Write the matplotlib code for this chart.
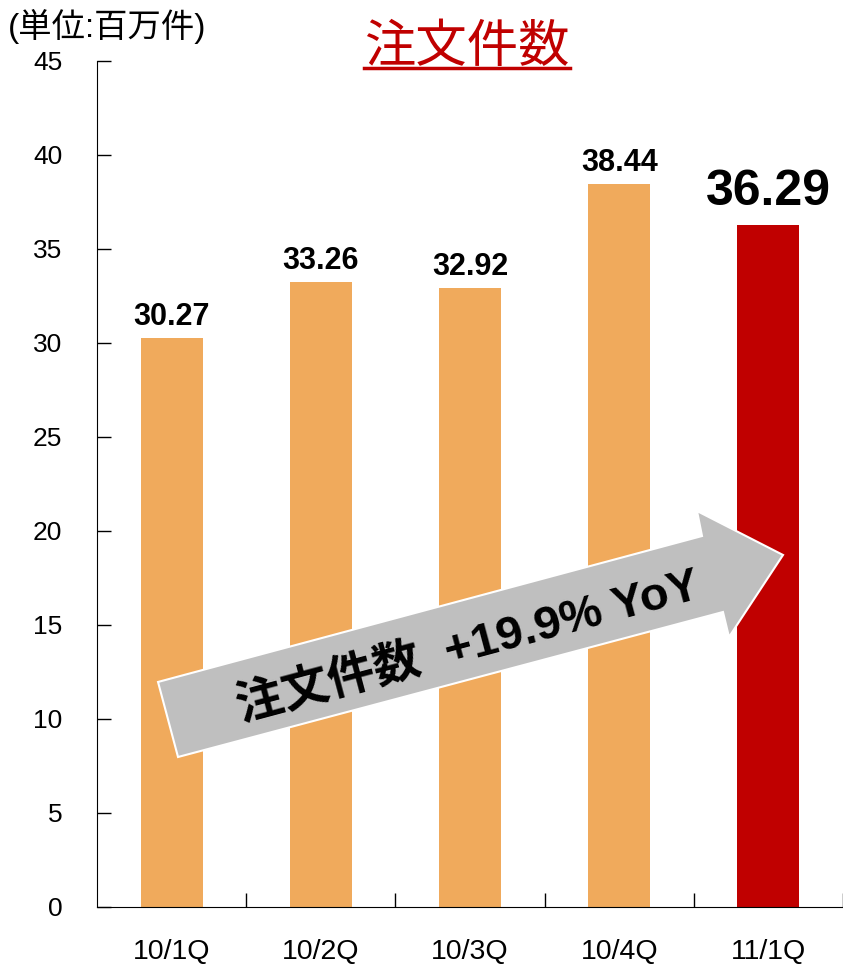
import matplotlib.pyplot as plt
from matplotlib.patches import Polygon
from matplotlib.lines import Line2D

plt.rcParams['font.family'] = ['Liberation Sans', 'Noto Sans CJK JP']

# data
quarters = ['10/1Q', '10/2Q', '10/3Q', '10/4Q', '11/1Q']
orders = [30.27, 33.26, 32.92, 38.44, 36.29]
bar_colors = ['#F0AA5C'] * 4 + ['#C00000']
yoy_text = '注文件数  +19.9% YoY'

W, H = 843, 965
fig = plt.figure(figsize=(W / 100, H / 100), dpi=100)
ax = fig.add_axes([97 / W, 58 / H, 746 / W, 846 / H])

x = list(range(len(quarters)))
ax.bar(x, orders, width=0.415, color=bar_colors, zorder=2)
ax.set_xlim(-0.5, 4.5)
ax.set_ylim(0, 45)
ax.set_yticks(range(0, 46, 5))
ax.set_xticks(x)
ax.set_xticklabels(quarters, fontsize=20.5)
ax.set_xticks([i + 0.5 for i in x], minor=True)
ax.tick_params(axis='x', which='major', length=0, pad=23)
ax.tick_params(axis='x', which='minor', direction='in', length=10, width=1)
ax.tick_params(axis='y', direction='in', length=10, width=1, labelsize=19, pad=25)
for s in ['top', 'right']:
    ax.spines[s].set_visible(False)

# value labels
for i, v in enumerate(orders):
    big = i == len(orders) - 1
    ax.annotate(f'{v:.2f}', (i, v), xytext=(0, 14.5 if big else 9.5),
                textcoords='offset points', ha='center', va='baseline',
                fontsize=36 if big else 22, fontweight='bold')

# growth arrow (axes fraction coords)
arrow_pts = [(0.0818, 0.266), (0.8110, 0.4385), (0.8043, 0.4681),
             (0.9196, 0.4161), (0.8472, 0.3191), (0.8391, 0.3487),
             (0.1086, 0.1773)]
ax.add_patch(Polygon(arrow_pts, closed=True, transform=ax.transAxes,
                     facecolor='#BFBFBF', edgecolor='white', lw=1.5,
                     zorder=5, clip_on=False))
ax.text(0.497, 0.307, yoy_text, transform=ax.transAxes, rotation=15,
        rotation_mode='anchor', ha='center', va='center', fontsize=34,
        fontweight='bold', zorder=6)

# title with underline
t = fig.text(467 / W, 1 - 47 / H, '注文件数', color='#C00000', fontsize=37,
             ha='center', va='center', family=['Noto Sans CJK JP'])
fig.canvas.draw()
bb = t.get_window_extent()
fig.add_artist(Line2D([bb.x0 / W, bb.x1 / W], [1 - 68 / H] * 2,
                      color='#C00000', lw=2.5))

fig.text(8 / W, 1 - 26 / H, '(単位:百万件)', fontsize=24, ha='left', va='center')

fig.savefig('out.png', dpi=100)
